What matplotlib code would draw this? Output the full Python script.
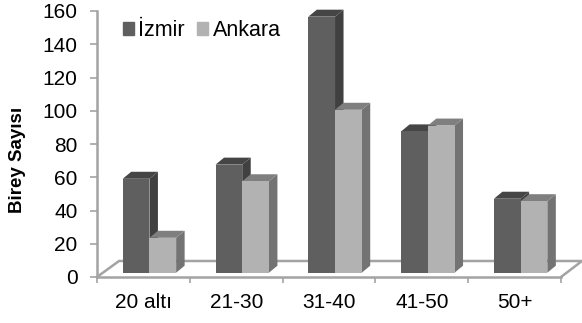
import matplotlib
matplotlib.use("Agg")
import matplotlib.pyplot as plt
import numpy as np

plt.rcParams['font.family'] = ['Liberation Sans', 'DejaVu Sans']

# veriler
categories = ["20 altı", "21-30", "31-40", "41-50", "50+"]
izmir = [56.5, 65, 154, 85, 44.5]
ankara = [21, 55, 98, 88.5, 43]
yticks = [0, 20, 40, 60, 80, 100, 120, 140, 160]

W, H = 582, 323
fig = plt.figure(figsize=(W / 100, H / 100), dpi=100)
# eksen piksel olarak: x 97-561, y 11-277
ax = fig.add_axes([97 / W, 1 - 277 / H, 464 / W, 266 / H])
ax.set_xlim(0, 5)
ax.set_ylim(0, 160)

# piksel -> veri birimi
px = 5 / 464
py = 160 / 266
base = 4.3 * py          # sutunlarin zemindeki tabani
bar_w = 26.7 * px
dx = 8.5 * px            # derinlik
dy = 7 * py
shift = 0.065            # sutunlar kategori ortasinin biraz saginda

GRID = "#a3a3a3"

# zemin
fx = 22 * px
fy = 16 * py
ax.plot([0, fx, 5 + 21 * px, 5], [0, fy, fy, 0], color=GRID, lw=1.8, clip_on=False, zorder=1,
        solid_joinstyle="miter")


def draw_bar(x, val, front, top, side, z):
    y1 = base + val
    ax.fill([x + bar_w, x + bar_w + dx, x + bar_w + dx, x + bar_w],
            [base, base + dy, y1 + dy, y1], color=side, lw=0, clip_on=False, zorder=z)
    ax.fill([x, x + dx, x + bar_w + dx, x + bar_w],
            [y1, y1 + dy, y1 + dy, y1], color=top, lw=0, clip_on=False, zorder=z)
    ax.bar(x, val, width=bar_w, bottom=base, align="edge", color=front,
           clip_on=False, zorder=z + 0.1)


xs = np.arange(len(categories)) + 0.5 + shift
for i in range(len(categories)):
    draw_bar(xs[i] - bar_w, izmir[i], "#5f5f5f", "#454545", "#404040", 3 + i)
    draw_bar(xs[i], ankara[i], "#b2b2b2", "#7f7f7f", "#737373", 3.5 + i)

ax.set_xticks(np.arange(0, 6))
ax.set_xticklabels([])
ax.set_xticks(np.arange(len(categories)) + 0.5, categories, minor=True)
ax.tick_params(axis="x", which="major", length=4, width=1.2, color=GRID)
ax.tick_params(axis="x", which="minor", length=0, labelsize=15, pad=11.5, labelcolor="black")
ax.set_yticks(yticks)
ax.tick_params(axis="y", length=5, width=1.2, color=GRID, labelsize=15, pad=9, labelcolor="black")

for s in ["top", "right"]:
    ax.spines[s].set_visible(False)
for s in ["left", "bottom"]:
    ax.spines[s].set_color(GRID)
    ax.spines[s].set_linewidth(1.8)

ax.set_ylabel("Birey Sayısı", fontsize=13.5, fontweight="bold")
ax.yaxis.set_label_coords(-71 / 464, 0.44)

# lejant
h1 = plt.Rectangle((0, 0), 1, 1, color="#5f5f5f")
h2 = plt.Rectangle((0, 0), 1, 1, color="#b2b2b2")
fig.legend([h1, h2], ["İzmir", "Ankara"], ncol=2, frameon=False, fontsize=15.5,
           loc="upper left", bbox_to_anchor=(123 / W, 1 - 20 / H),
           handlelength=0.52, handleheight=0.52, handletextpad=0.2, columnspacing=0.55,
           borderpad=0, borderaxespad=0)

fig.savefig("out.png", dpi=100)
